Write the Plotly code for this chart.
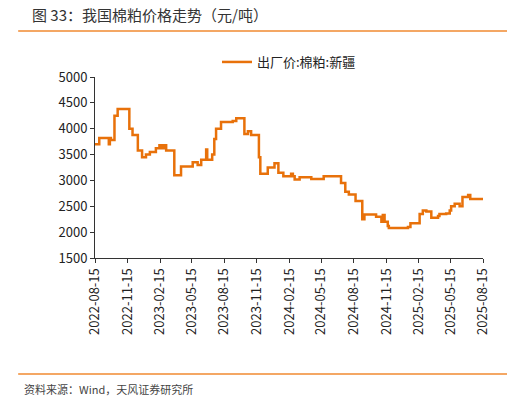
import plotly.graph_objects as go

# 棉粕出厂价（新疆），阶梯变化点
dates = ['2022-08-15', '2022-08-27', '2022-09-23', '2022-09-26', '2022-09-29', '2022-10-09',
         '2022-10-18', '2022-11-20', '2022-11-29', '2022-12-14', '2022-12-26', '2023-01-06',
         '2023-01-17', '2023-02-03', '2023-02-13', '2023-02-20', '2023-02-27', '2023-03-04',
         '2023-03-27', '2023-04-15', '2023-05-18', '2023-06-01', '2023-06-11', '2023-06-25',
         '2023-06-28', '2023-07-12', '2023-07-18', '2023-07-23', '2023-08-06', '2023-09-08',
         '2023-09-18', '2023-10-11', '2023-10-21', '2023-10-30', '2023-11-21', '2023-11-25',
         '2023-12-16', '2024-01-04', '2024-01-15', '2024-01-29', '2024-02-20', '2024-02-25',
         '2024-03-01', '2024-03-15', '2024-04-17', '2024-05-22', '2024-07-10', '2024-07-22',
         '2024-08-01', '2024-08-20', '2024-09-08', '2024-09-14', '2024-10-17', '2024-11-01',
         '2024-11-05', '2024-11-10', '2024-11-19', '2024-11-22', '2025-01-15', '2025-01-22',
         '2025-02-17', '2025-02-26', '2025-03-08', '2025-03-22', '2025-04-10', '2025-04-14',
         '2025-05-03', '2025-05-13', '2025-05-17', '2025-05-27', '2025-06-10', '2025-06-18',
         '2025-07-04', '2025-07-10', '2025-08-15']
prices = [3700, 3820, 3700, 3820, 3780, 4250,
          4380, 4000, 3880, 3580, 3450, 3500,
          3550, 3620, 3680, 3620, 3680, 3580,
          3100, 3270, 3350, 3300, 3400, 3600,
          3400, 3500, 3800, 4000, 4130, 4150,
          4200, 3900, 3950, 3880, 3450, 3130,
          3250, 3330, 3150, 3080, 3130, 3080,
          3020, 3060, 3030, 3080, 2950, 2780,
          2730, 2600, 2250, 2340, 2300, 2200,
          2330, 2200, 2120, 2080, 2100, 2170,
          2350, 2420, 2400, 2280, 2310, 2350,
          2360, 2420, 2500, 2550, 2500, 2680,
          2720, 2640, 2640]

tick_dates = ['2022-08-15', '2022-11-15', '2023-02-15', '2023-05-15', '2023-08-15', '2023-11-15',
              '2024-02-15', '2024-05-15', '2024-08-15', '2024-11-15', '2025-02-15', '2025-05-15',
              '2025-08-15']

fig = go.Figure()
fig.add_trace(go.Scatter(x=dates, y=prices, mode='lines', line_shape='hv',
                         line=dict(color='#E8710A', width=2.5), name='出厂价:棉粕:新疆'))

fig.update_layout(
    width=515, height=404,
    margin=dict(l=87, r=40, t=69, b=154),
    plot_bgcolor='white', paper_bgcolor='white',
    font=dict(family='Noto Sans CJK SC', size=13, color='#222'),
    showlegend=True,
    legend=dict(x=0.5, xanchor='center', y=1.0, yanchor='bottom', orientation='h',
                font=dict(size=13)),
    xaxis=dict(range=['2022-08-15', '2025-08-15'], tickvals=tick_dates, ticktext=tick_dates,
               tickangle=-90, showgrid=False, showline=True, linecolor='#333',
               ticks='outside', ticklen=4, tickcolor='#333'),
    yaxis=dict(range=[1500, 5000], dtick=500, showgrid=False, showline=True,
               linecolor='#333', ticks='outside', ticklen=4, tickcolor='#333'),
)

fig.add_annotation(text='图 33：我国棉粕价格走势（元/吨）', xref='paper', yref='paper',
                   x=-0.168, y=1.348, xanchor='left', yanchor='middle', showarrow=False,
                   font=dict(size=15, color='#333'))
fig.add_shape(type='line', xref='paper', yref='paper', x0=-0.198, x1=1.07, y0=1.254, y1=1.254,
              line=dict(color='#F08A30', width=1.5))
fig.add_annotation(text='资料来源：Wind，天风证券研究所', xref='paper', yref='paper',
                   x=-0.188, y=-0.724, xanchor='left', yanchor='middle', showarrow=False,
                   font=dict(size=11, color='#444'))
fig.add_shape(type='line', xref='paper', yref='paper', x0=-0.198, x1=1.07, y0=-0.641, y1=-0.641,
              line=dict(color='#F08A30', width=1.5))

fig.write_html("out.html")
